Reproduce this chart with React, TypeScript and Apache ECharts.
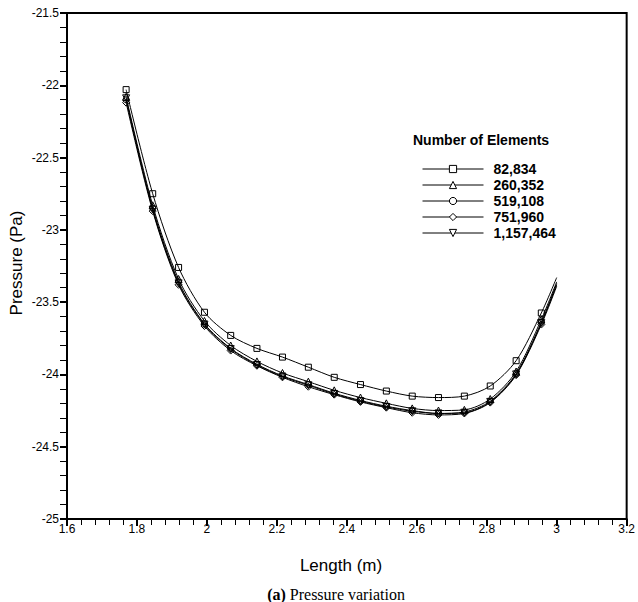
import React, { useEffect, useRef } from "react";
import * as echarts from "echarts";

const xValues = [1.769, 1.845, 1.919, 1.993, 2.068, 2.143, 2.216, 2.29, 2.364, 2.439, 2.513, 2.587, 2.662, 2.736, 2.81, 2.884, 2.956, 3.0];

const seriesNames = ["82,834", "260,352", "519,108", "751,960", "1,157,464"];

const pressure82834 = [-22.03, -22.75, -23.26, -23.57, -23.73, -23.82, -23.88, -23.95, -24.02, -24.07, -24.115, -24.15, -24.16, -24.15, -24.08, -23.905, -23.575, -23.33];
const pressure260352 = [-22.08, -22.83, -23.34, -23.63, -23.8, -23.91, -23.99, -24.05, -24.11, -24.16, -24.2, -24.235, -24.25, -24.245, -24.17, -23.98, -23.62, -23.36];
const pressure519108 = [-22.1, -22.85, -23.36, -23.65, -23.82, -23.93, -24.01, -24.07, -24.13, -24.18, -24.22, -24.25, -24.27, -24.26, -24.185, -23.995, -23.64, -23.37];
const pressure751960 = [-22.12, -22.87, -23.38, -23.665, -23.835, -23.94, -24.02, -24.085, -24.14, -24.19, -24.23, -24.265, -24.28, -24.27, -24.195, -24.005, -23.655, -23.39];
const pressure1157464 = [-22.09, -22.86, -23.37, -23.655, -23.825, -23.935, -24.015, -24.075, -24.135, -24.185, -24.225, -24.255, -24.27, -24.265, -24.19, -24.0, -23.645, -23.38];

const allPressures = [pressure82834, pressure260352, pressure519108, pressure751960, pressure1157464];
const symbols = ["rect", "triangle", "circle", "diamond", "triangle"];
const symbolRotates = [0, 0, 0, 0, 180];
const symbolSizes = [6, 7, 6, 7, 7];

const SANS = "'Liberation Sans', Arial, sans-serif";
const SERIF = "'Liberation Serif', 'Times New Roman', serif";

export default function App() {
  const ref = useRef<HTMLDivElement>(null);
  useEffect(() => {
    if (!ref.current) return;
    const chart = echarts.init(ref.current, undefined, { renderer: "svg" });
    const series = seriesNames.map((name, i) => ({
      name,
      type: "line",
      smooth: 0.3,
      symbol: symbols[i],
      symbolRotate: symbolRotates[i],
      symbolSize: symbolSizes[i],
      showAllSymbol: true,
      lineStyle: { color: "#000", width: 1 },
      itemStyle: { color: "rgba(0,0,0,0)", borderColor: "#000", borderWidth: 1 },
      data: xValues.map((x, j) =>
        j === xValues.length - 1
          ? { value: [x, allPressures[i][j]], symbol: "none" }
          : [x, allPressures[i][j]]
      ),
      z: 10 - i,
    }));
    chart.setOption({
      animation: false,
      backgroundColor: "#fff",
      grid: {
        left: 67,
        top: 13,
        right: 10,
        bottom: 83,
        show: true,
        borderColor: "#000",
        borderWidth: 2,
        backgroundColor: "transparent",
      },
      legend: {
        orient: "vertical",
        left: 417,
        top: 157,
        itemWidth: 61,
        itemHeight: 9,
        itemGap: 2,
        data: seriesNames,
        lineStyle: { color: "#000", width: 1 },
        itemStyle: { color: "#fff", borderColor: "#000", borderWidth: 1 },
        textStyle: {
          fontFamily: SANS,
          fontSize: 14,
          fontWeight: "bold",
          color: "#000",
          padding: [0, 0, 0, 5],
        },
      },
      xAxis: {
        type: "value",
        min: 1.6,
        max: 3.2,
        interval: 0.2,
        axisLine: { show: true, lineStyle: { color: "#000", width: 2 } },
        axisTick: { show: true, inside: false, length: 7, lineStyle: { color: "#000", width: 2 } },
        minorTick: { show: true, splitNumber: 5, length: 6, lineStyle: { color: "#000", width: 1 } },
        splitLine: { show: false },
        minorSplitLine: { show: false },
        axisLabel: { color: "#000", fontFamily: SANS, fontSize: 12, margin: 4 },
      },
      yAxis: {
        type: "value",
        min: -25,
        max: -21.5,
        interval: 0.5,
        axisLine: { show: true, lineStyle: { color: "#000", width: 2 } },
        axisTick: { show: true, inside: false, length: 7, lineStyle: { color: "#000", width: 2 } },
        minorTick: { show: true, splitNumber: 5, length: 7, lineStyle: { color: "#000", width: 1 } },
        splitLine: { show: false },
        minorSplitLine: { show: false },
        axisLabel: { color: "#000", fontFamily: SANS, fontSize: 12, margin: 8 },
      },
      graphic: [
        {
          type: "text",
          left: 413,
          top: 133,
          style: {
            text: "Number of Elements",
            fontFamily: SANS,
            fontSize: 14,
            fontWeight: "bold",
            fill: "#000",
          },
        },
        {
          type: "text",
          x: 341,
          y: 565,
          style: {
            text: "Length (m)",
            fontFamily: SANS,
            fontSize: 17,
            fill: "#000",
            align: "center",
            verticalAlign: "middle",
          },
        },
        {
          type: "text",
          x: 16,
          y: 263,
          rotation: Math.PI / 2,
          style: {
            text: "Pressure (Pa)",
            fontFamily: SANS,
            fontSize: 17,
            fill: "#000",
            align: "center",
            verticalAlign: "middle",
          },
        },
        {
          type: "text",
          x: 336,
          y: 594,
          style: {
            text: "{b|(a)} Pressure variation",
            fontFamily: SERIF,
            fontSize: 16,
            fill: "#000",
            align: "center",
            verticalAlign: "middle",
            rich: {
              b: { fontFamily: SERIF, fontSize: 16, fontWeight: "bold", fill: "#000" },
            },
          },
        },
      ],
      series,
    });
    return () => chart.dispose();
  }, []);
  return (
    <div
      ref={ref}
      style={{ position: "absolute", left: 0, top: 0, width: 638, height: 602 }}
    />
  );
}
